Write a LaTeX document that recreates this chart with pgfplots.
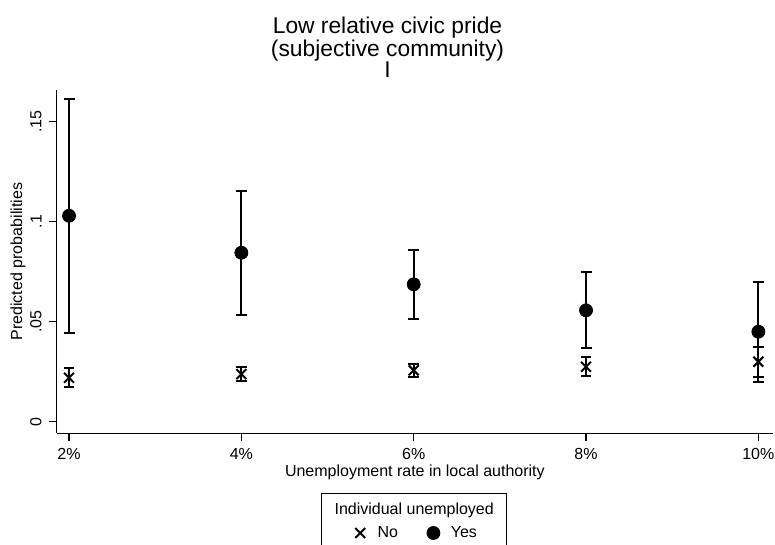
\documentclass[border=0pt]{standalone}
\usepackage{fontspec}
\setmainfont{Liberation Sans}
\usepackage{pgfplots}
\pgfplotsset{compat=1.18}
\pgfplotsset{mylegimg/.style={legend image code/.code={\path (0pt,0pt) (12pt,0pt); \draw[##1] plot coordinates {(5.5pt,0pt)};}}}
\begin{document}
\begin{tikzpicture}
\begin{axis}[
  name=ax,
  scale only axis,
  width=358.15pt, height=171.65pt,
  xmin=1.857, xmax=10.17,
  ymin=-0.0058, ymax=0.1659,
  axis x line*=bottom, axis y line*=left,
  axis line style={-, line width=0.7pt},
  xtick={2,4,6,8,10},
  xticklabels={2\%,4\%,6\%,8\%,10\%},
  ytick={0,0.05,0.1,0.15},
  yticklabels={0,.05,.1,.15},
  /pgf/number format/assume math mode=true,
  tick align=outside,
  major tick length=4pt,
  tick style={line width=0.7pt, black},
  yticklabel style={rotate=90, anchor=south, font=\fontsize{8}{9}\selectfont},
  xticklabel style={font=\fontsize{8}{9}\selectfont},
  every axis x label/.style={at={(axis description cs:0.5,-0.1127)}, anchor=center, font=\fontsize{8}{9}\selectfont},
  every axis y label/.style={at={(axis description cs:-0.054,0.5)}, rotate=90, anchor=center, font=\fontsize{8}{9}\selectfont},
  xlabel={Unemployment rate in local authority},
  ylabel={Predicted probabilities},
  legend columns=2,
  legend style={draw=none, fill=none, at={(axis description cs:0.5,-0.2904)}, anchor=center, font=\fontsize{8}{9}\selectfont, /tikz/every even column/.append style={column sep=10pt}},
  clip=false,
]
\addplot[black, only marks, mark=x, mark size=3.5pt, mark options={line width=1pt},
  mylegimg,
  error bars/.cd, y dir=both, y explicit,
  error bar style={line width=1pt},
  error mark options={rotate=90, mark size=2.6pt, line width=1pt}]
coordinates {
 (2,0.0220) +- (0,0.0048)
 (4,0.0238) +- (0,0.0035)
 (6,0.0257) +- (0,0.0032)
 (8,0.0275) +- (0,0.0047)
 (10,0.0300) +- (0,0.0075)
};
\addlegendentry{No}
\addplot[black, only marks, mark=*, mark size=3.25pt,
  mylegimg,
  error bars/.cd, y dir=both, y explicit,
  error bar style={line width=1pt},
  error mark options={rotate=90, mark size=2.75pt, line width=1pt}]
coordinates {
 (2,0.1030) +- (0,0.0585)
 (4,0.0845) +- (0,0.0310)
 (6,0.0687) +- (0,0.01725)
 (8,0.0557) +- (0,0.0190)
 (10,0.0450) +- (0,0.0250)
};
\addlegendentry{Yes}
\end{axis}
\node[font=\fontsize{11.4}{12}\selectfont, anchor=base] at ([xshift=165.4pt,yshift=199.65pt]ax.south west) {Low relative civic pride};
\node[font=\fontsize{11.4}{12}\selectfont, anchor=base] at ([xshift=165.4pt,yshift=188.5pt]ax.south west) {(subjective community)};
\node[font=\fontsize{11.4}{12}\selectfont, anchor=base] at ([xshift=165.4pt,yshift=178pt]ax.south west) {I};
\node[font=\fontsize{8}{9}\selectfont] at ([xshift=178.75pt,yshift=-38.35pt]ax.south west) {Individual unemployed};
\draw[line width=0.6pt] ([xshift=132.5pt,yshift=-63pt]ax.south west) rectangle ([xshift=225pt,yshift=-30pt]ax.south west);
\pgfresetboundingbox
\path[use as bounding box] ([xshift=-28.35pt,yshift=-55.85pt]ax.south west) rectangle ([xshift=359.15pt,yshift=216.65pt]ax.south west);
\end{tikzpicture}
\end{document}
